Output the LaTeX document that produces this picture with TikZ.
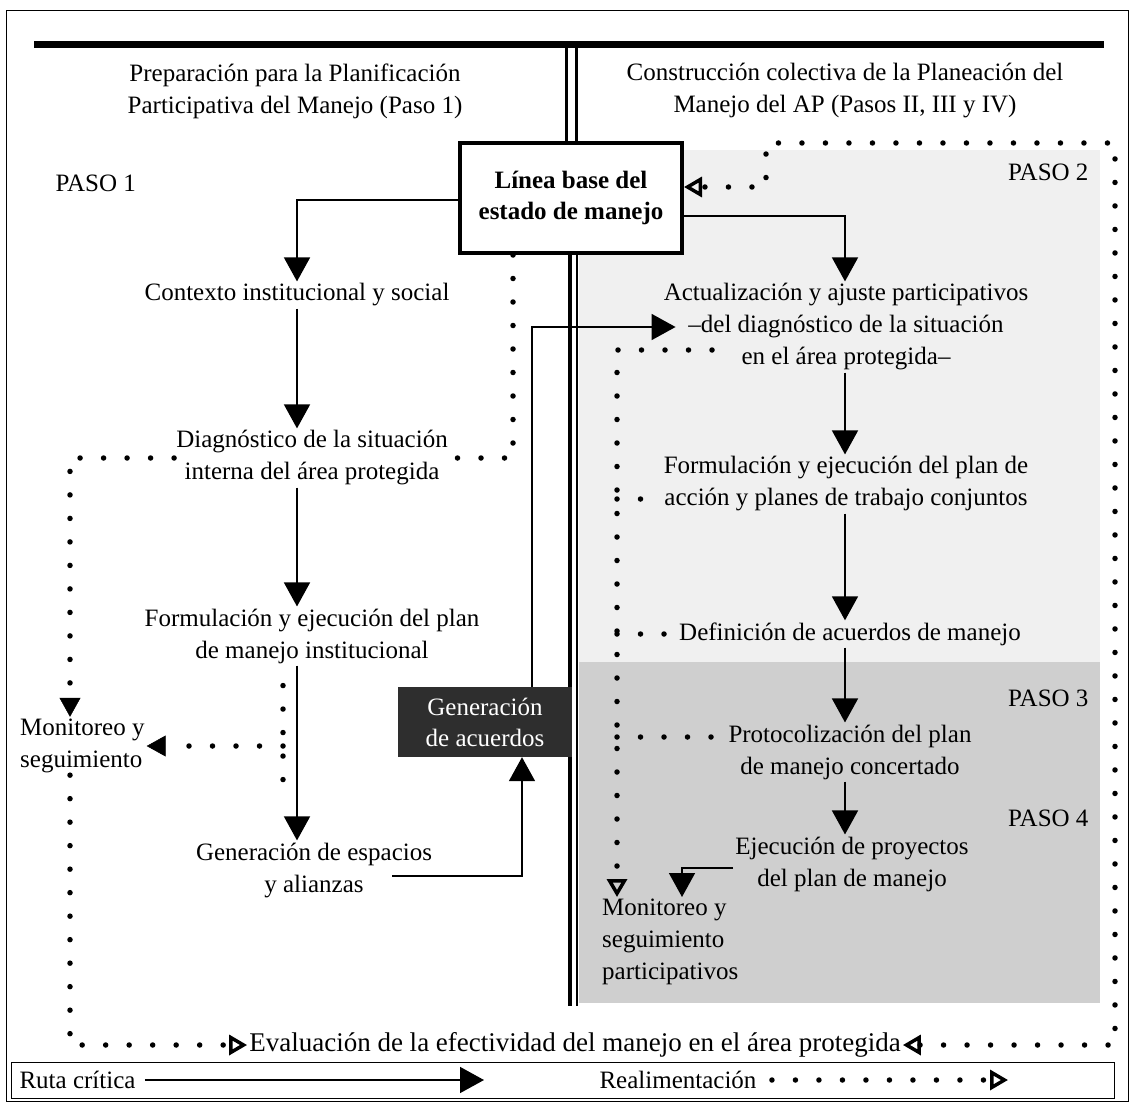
\documentclass[tikz,border=0pt]{standalone}
\usepackage{fontspec}
\setmainfont{Liberation Serif}
\usetikzlibrary{arrows.meta,positioning}

\tikzset{
  txt/.style={align=center, inner sep=2pt},
  ruta/.style={line width=1.6pt, -{Triangle[width=26pt,length=24pt]}},
  realim/.style={line width=5.5pt, line cap=round, dash pattern=on 0pt off 23.5pt},
  hueco/.tip={Triangle[open,width=20pt,length=18pt,line width=3.5pt]},
  lleno/.tip={Triangle[width=21pt,length=19pt,line width=0.5pt]},
  basebox/.style={draw, line width=4pt, fill=white, align=center,
    minimum width=222pt, minimum height=110pt, font=\fontsize{25}{31}\selectfont\bfseries},
  acuerdo/.style={fill=black!82, text=white, align=center, minimum width=174pt,
    minimum height=70pt, inner sep=2pt, font=\fontsize{25}{31}\selectfont},
}

\begin{document}
\begin{tikzpicture}[x=1pt,y=-1pt,font=\fontsize{25}{32}\selectfont]
  \useasboundingbox (0,0) rectangle (1133,1105);
  % fondo del panel derecho
  \fill[gray!12] (579,150) rectangle (1100,662);
  \fill[gray!38] (579,662) rectangle (1100,1003);
  % marcos y separadores
  \draw[line width=1pt] (6,11) rectangle (1128,1101);
  \draw[line width=7pt] (34,45) -- (1104,45);
  \draw[line width=3pt] (566,48) -- (566,150);
  \draw[line width=3pt] (576,48) -- (576,150);
  \draw[line width=4pt] (570,250) -- (570,1006);
  \draw[line width=1.5pt] (577,250) -- (577,1006);

  \coordinate (colL) at (297,0);
  \coordinate (colR) at (845,0);
  \coordinate (fbCol) at (617,0);

  % encabezados
  \node[txt] (hdrL) at (295,91) {Preparación para la Planificación\\Participativa del Manejo (Paso 1)};
  \node[txt] (hdrR) at (845,91) {Construcción colectiva de la Planeación del\\Manejo del AP (Pasos II, III y IV)};
  \node[anchor=west] (paso1) at (52,183) {PASO 1};
  \node[anchor=east] (paso2) at (1092,172) {PASO 2};
  \node[anchor=east] (paso3) at (1092,698) {PASO 3};
  \node[anchor=east] (paso4) at (1092,818) {PASO 4};

  \node[basebox] (base) at (571,198) {Línea base del\\estado de manejo};

  % paso 1
  \node[txt] (ctx) at (297,295) {Contexto institucional y social};
  \node[txt] (diag) at (312,458) {Diagnóstico de la situación\\interna del área protegida};
  \node[txt] (form1) at (312,636) {Formulación y ejecución del plan\\de manejo institucional};
  \node[txt] (genesp) at (314,870) {Generación de espacios\\y alianzas};
  \node[txt,align=left,anchor=west] (monL) at (18,746) {Monitoreo y\\seguimiento};
  \node[acuerdo] (genacu) at (485,722) {Generación\\de acuerdos};

  % pasos 2 a 4
  \node[txt] (actual) at (846,327) {Actualización y ajuste participativos\\–del diagnóstico de la situación\\en el área protegida–};
  \node[txt] (form2) at (846,484) {Formulación y ejecución del plan de\\acción y planes de trabajo conjuntos};
  \node[txt] (defin) at (850,634) {Definición de acuerdos de manejo};
  \node[txt] (proto) at (850,752) {Protocolización del plan\\de manejo concertado};
  \node[txt] (ejec) at (852,864) {Ejecución de proyectos\\del plan de manejo};
  \node[txt,align=left,anchor=north west] (monR) at (600,897) {Monitoreo y\\seguimiento\\participativos};

  \node[txt,font=\fontsize{27}{32}\selectfont] (eval) at (575,1045) {Evaluación de la efectividad del manejo en el área protegida};

  % leyenda
  \node[draw,line width=1pt,minimum width=1103pt,minimum height=36pt,inner sep=0pt] (leyenda) at (563,1080) {};
  \node[anchor=west] (ruta) at (16,1080) {Ruta crítica};
  \node[anchor=west] (realim) at (596,1080) {Realimentación};
  \coordinate (rutaFin) at (484,1080);
  \coordinate (realimFin) at (1008,1080);

  % ruta critica
  \draw[ruta] ([yshift=-2pt]base.west) -| (ctx.north);
  \draw[ruta] (ctx.south -| colL) -- (diag.north -| colL);
  \draw[ruta] (diag.south -| colL) -- (form1.north -| colL);
  \draw[ruta] (form1.south -| colL) -- (genesp.north -| colL);
  \draw[ruta] ([xshift=-42pt,yshift=-6pt]genesp.east) -| ([xshift=37pt]genacu.south);
  \draw[ruta] ([xshift=47pt]genacu.north) |- ([xshift=14pt]actual.west);
  \draw[ruta] ([yshift=-18pt]base.east) -| (actual.north -| colR);
  \draw[ruta] (actual.south -| colR) -- (form2.north -| colR);
  \draw[ruta] (form2.south -| colR) -- (defin.north -| colR);
  \draw[ruta] (defin.south -| colR) -- (proto.north -| colR);
  \draw[ruta] (proto.south -| colR) -- (ejec.north -| colR);
  \draw[ruta] ([yshift=-4pt]ejec.west) -| ([xshift=82pt]monR.north west);
  \draw[ruta] ([xshift=6pt]ruta.east) -- (rutaFin);

  % realimentacion
  \coordinate (fbA) at (283,790);
  \coordinate (fbR) at (712,350);
  \coordinate (fbNE) at (1115,143);
  \coordinate (fbNW) at (766,143);
  \draw[realim] ([xshift=-58pt]base.south) |- (diag.east);
  \draw[realim,-{lleno}] (diag.west) -| ([xshift=52pt]monL.north west);
  \draw[realim] ([xshift=-29pt,yshift=-20pt]form1.south) -- (fbA);
  \draw[realim,-{lleno}] (fbA |- monL.east) -- (monL.east);
  \draw[realim,-{hueco}] ([xshift=52pt]monL.south west) |- (eval.west);
  \draw[realim,{hueco}-{hueco}] (eval.east) -| (fbNE) -- (fbNW) |- ([yshift=11pt]base.east);
  \draw[realim,-{hueco}] (fbR) -| ([xshift=17pt]monR.north west);
  \draw[realim] ([yshift=-15pt]form2.west -| fbCol) -- ([yshift=-15pt]form2.west);
  \draw[realim] (defin.west -| fbCol) -- (defin.west);
  \draw[realim] ([yshift=15pt]proto.west -| fbCol) -- ([yshift=15pt]proto.west);
  \draw[realim,-{hueco}] ([xshift=12pt]realim.east) -- (realimFin);
\end{tikzpicture}
\end{document}
